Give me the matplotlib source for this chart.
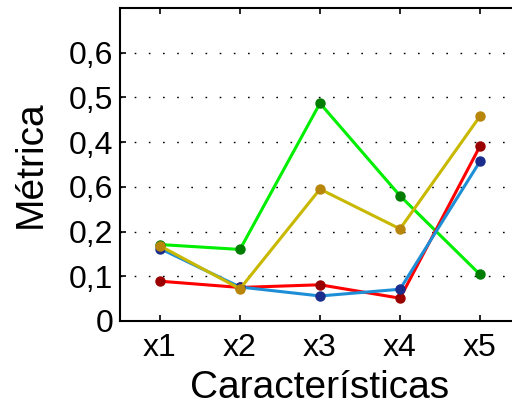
import matplotlib
matplotlib.use('Agg')
import matplotlib.pyplot as plt

plt.rcParams['font.family'] = ['Liberation Sans', 'DejaVu Sans']

caracteristicas = ['x1', 'x2', 'x3', 'x4', 'x5']
serie_verde = [0.171, 0.160, 0.487, 0.280, 0.104]
serie_roja = [0.089, 0.075, 0.081, 0.051, 0.391]
serie_azul = [0.162, 0.076, 0.056, 0.071, 0.357]
serie_dorada = [0.168, 0.072, 0.295, 0.206, 0.458]
yticks = [0, 0.1, 0.2, 0.3, 0.4, 0.5, 0.6]
yticklabels = ['0', '0,1', '0,2', '0,6', '0,4', '0,5', '0,6']

fig = plt.figure(figsize=(5.12, 4.08), dpi=100)
ax = fig.add_axes([120 / 512, 1 - 321 / 408, 400 / 512, 313 / 408])

x = range(1, len(caracteristicas) + 1)
# (linea, marcador)
estilos = [
    (serie_verde, '#00ee00', '#007c00'),
    (serie_roja, '#ff0000', '#9a0000'),
    (serie_azul, '#1e8ed6', '#1a2d8c'),
    (serie_dorada, '#c8b800', '#b8860b'),
]
for datos, c_linea, c_marca in estilos:
    ax.plot(x, datos, color=c_linea, lw=2.2, marker='o', ms=6.5,
            markerfacecolor=c_marca, markeredgecolor=c_marca)

ax.set_xlim(0.5, 5.5)
ax.set_ylim(0, 0.7)
ax.set_xticks(list(x))
ax.set_xticklabels(caracteristicas)
ax.set_yticks(yticks)
ax.set_yticklabels(yticklabels)
ax.yaxis.grid(True, color='black', lw=1.0, linestyle=(0, (1.2, 9)))
ax.tick_params(direction='in', labelsize=23, length=4, width=1.2,
               top=True, pad=5)
ax.tick_params(axis='x', pad=9)
for s in ax.spines.values():
    s.set_linewidth(1.5)

ax.set_xlabel('Características', fontsize=28, labelpad=5)
ax.set_ylabel('Métrica', fontsize=28, labelpad=14)

fig.savefig('out.png', dpi=100)
